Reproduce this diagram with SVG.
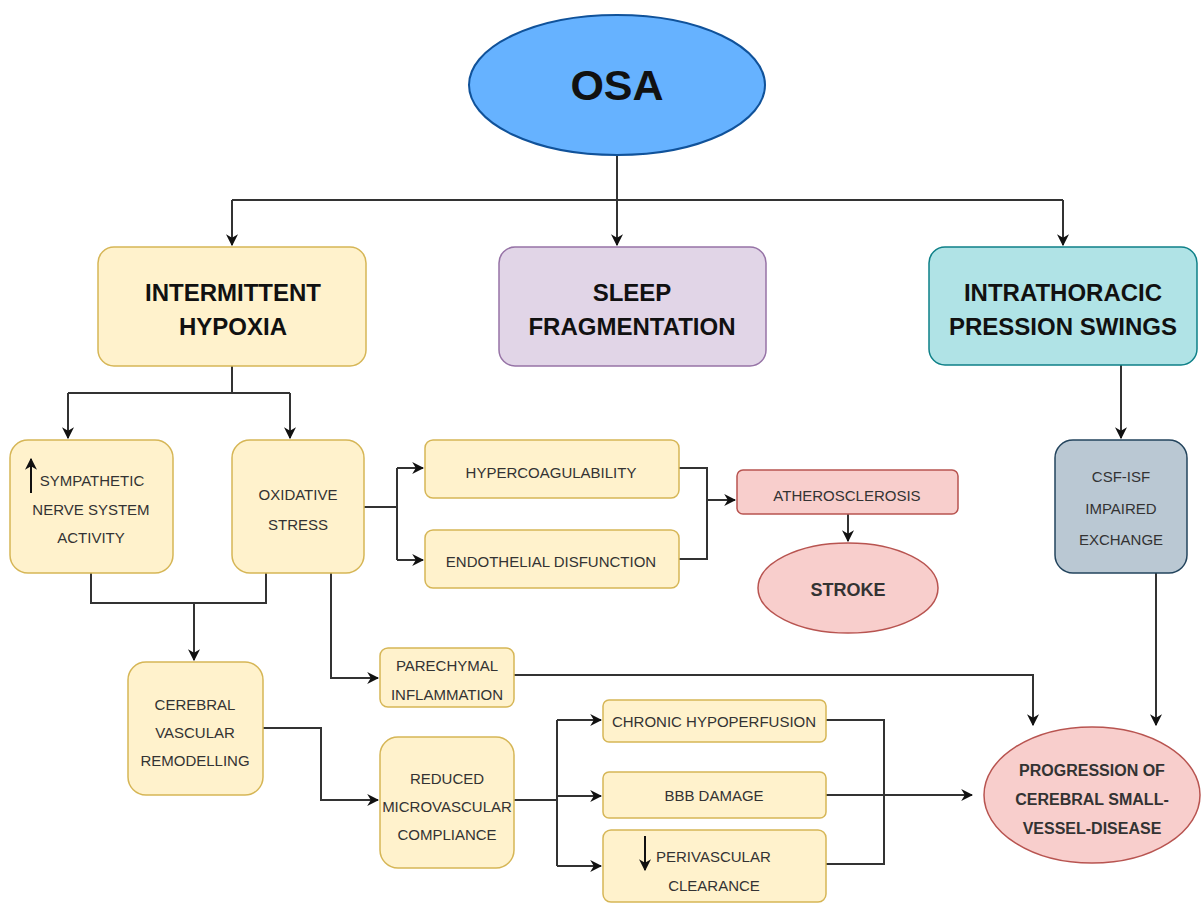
<svg xmlns="http://www.w3.org/2000/svg" width="1203" height="904" viewBox="0 0 1203 904">
<defs>
<marker id="ah" viewBox="0 0 10 10" refX="9" refY="5" markerWidth="6" markerHeight="6" orient="auto" markerUnits="strokeWidth">
<path d="M0,0 L10,5 L0,10 L3,5 Z" fill="#111"/>
</marker>
<marker id="ahs" viewBox="0 0 10 10" refX="9" refY="5" markerWidth="6" markerHeight="6" orient="auto" markerUnits="strokeWidth">
<path d="M0,0 L10,5 L0,10 L3,5 Z" fill="#111"/>
</marker>
</defs>
<style>
.y{fill:#fff2cc;stroke:#d6b656;stroke-width:1.5}
.p{fill:#e1d5e7;stroke:#9673a6;stroke-width:1.5}
.c{fill:#b0e3e6;stroke:#0e8088;stroke-width:1.5}
.g{fill:#bac8d3;stroke:#23445d;stroke-width:1.5}
.r{fill:#f8cecc;stroke:#b85450;stroke-width:1.5}
.h{font-family:"Liberation Sans",Arial,sans-serif;font-weight:bold;font-size:24px;fill:#111;text-anchor:middle}
.s{font-family:"Liberation Sans",Arial,sans-serif;font-size:15px;fill:#333;text-anchor:middle}
.b{font-family:"Liberation Sans",Arial,sans-serif;font-weight:bold;font-size:16px;fill:#333;text-anchor:middle}
.l{fill:none;stroke:#333;stroke-width:2}
.a{marker-end:url(#ah)}
</style>
<rect width="1203" height="904" fill="#fff"/>
<g id="connectors">
<path class="l" d="M617,155 V200"/>
<path class="l" d="M232,200 H1063"/>
<path class="l a" d="M232,200 V245"/>
<path class="l a" d="M617,200 V245"/>
<path class="l a" d="M1063,200 V245"/>
<path class="l" d="M232,366 V393 M68,393 H290"/>
<path class="l a" d="M68,393 V438"/>
<path class="l a" d="M290,393 V438"/>
<path class="l" d="M91,573 V603 H266 V573"/>
<path class="l a" d="M194,603 V660"/>
<path class="l" d="M364,507 H397 M397,468 V560"/>
<path class="l a" d="M397,468 H423"/>
<path class="l a" d="M397,560 H423"/>
<path class="l" d="M679,468 H707 V559 H679"/>
<path class="l a" d="M707,500 H735"/>
<path class="l a" d="M848,514 V541"/>
<path class="l a" d="M331,573 V678 H378"/>
<path class="l a" d="M514,675 H1033 V725"/>
<path class="l a" d="M1121,365 V438"/>
<path class="l a" d="M1156,573 V725"/>
<path class="l a" d="M263,728 H321 V800 H378"/>
<path class="l" d="M514,800 H557 M557,720 V866"/>
<path class="l a" d="M557,720 H601"/>
<path class="l a" d="M557,796 H601"/>
<path class="l a" d="M557,866 H601"/>
<path class="l" d="M826,720 H884 V864 H826"/>
<path class="l a" d="M826,795 H972"/>
</g>
<g id="osa">
<ellipse cx="617" cy="85" rx="148" ry="70" fill="#66b2ff" stroke="#10529a" stroke-width="2"/>
<text x="617" y="100" class="h" style="font-size:43px">OSA</text>
</g>
<g id="intermittent-hypoxia">
<rect x="98" y="247" width="268" height="119" rx="16" class="y"/>
<text x="233" y="301" class="h">INTERMITTENT</text>
<text x="233" y="335" class="h">HYPOXIA</text>
</g>
<g id="sleep-fragmentation">
<rect x="499" y="247" width="267" height="119" rx="16" class="p"/>
<text x="632" y="301" class="h">SLEEP</text>
<text x="632" y="335" class="h">FRAGMENTATION</text>
</g>
<g id="intrathoracic">
<rect x="929" y="247" width="268" height="118" rx="16" class="c"/>
<text x="1063" y="301" class="h">INTRATHORACIC</text>
<text x="1063" y="335" class="h">PRESSION SWINGS</text>
</g>
<g id="sympathetic">
<rect x="10" y="440" width="163" height="133" rx="18" class="y"/>
<path d="M31,493 V459" stroke="#111" stroke-width="2" fill="none" marker-end="url(#ahs)"/>
<text x="92" y="486" class="s">SYMPATHETIC</text>
<text x="91" y="515" class="s">NERVE SYSTEM</text>
<text x="91" y="543" class="s">ACTIVITY</text>
</g>
<g id="oxidative-stress">
<rect x="232" y="440" width="132" height="133" rx="18" class="y"/>
<text x="298" y="500" class="s">OXIDATIVE</text>
<text x="298" y="530" class="s">STRESS</text>
</g>
<g id="hypercoagulability">
<rect x="425" y="440" width="254" height="58" rx="8" class="y"/>
<text x="551" y="478" class="s">HYPERCOAGULABILITY</text>
</g>
<g id="endothelial">
<rect x="425" y="530" width="254" height="58" rx="8" class="y"/>
<text x="551" y="567" class="s">ENDOTHELIAL DISFUNCTION</text>
</g>
<g id="atherosclerosis">
<rect x="737" y="470" width="221" height="44" rx="6" class="r"/>
<text x="847" y="501" class="s">ATHEROSCLEROSIS</text>
</g>
<g id="stroke">
<ellipse cx="848" cy="588" rx="90" ry="45" class="r"/>
<text x="848" y="596" class="b" style="font-size:18px">STROKE</text>
</g>
<g id="csf-isf">
<rect x="1055" y="440" width="132" height="133" rx="18" class="g"/>
<text x="1121" y="482" class="s">CSF-ISF</text>
<text x="1121" y="514" class="s">IMPAIRED</text>
<text x="1121" y="545" class="s">EXCHANGE</text>
</g>
<g id="cerebral-vascular">
<rect x="128" y="662" width="135" height="133" rx="18" class="y"/>
<text x="195" y="710" class="s">CEREBRAL</text>
<text x="195" y="738" class="s">VASCULAR</text>
<text x="195" y="766" class="s">REMODELLING</text>
</g>
<g id="parechymal">
<rect x="380" y="648" width="134" height="59" rx="8" class="y"/>
<text x="447" y="671" class="s">PARECHYMAL</text>
<text x="447" y="700" class="s">INFLAMMATION</text>
</g>
<g id="reduced-compliance">
<rect x="380" y="737" width="134" height="131" rx="18" class="y"/>
<text x="447" y="784" class="s">REDUCED</text>
<text x="447" y="812" class="s">MICROVASCULAR</text>
<text x="447" y="840" class="s">COMPLIANCE</text>
</g>
<g id="chronic-hypoperfusion">
<rect x="603" y="700" width="223" height="42" rx="6" class="y"/>
<text x="714" y="727" class="s">CHRONIC HYPOPERFUSION</text>
</g>
<g id="bbb-damage">
<rect x="603" y="772" width="223" height="46" rx="6" class="y"/>
<text x="714" y="801" class="s">BBB DAMAGE</text>
</g>
<g id="perivascular">
<rect x="603" y="830" width="223" height="72" rx="8" class="y"/>
<path d="M645,836 V870" stroke="#111" stroke-width="2" fill="none" marker-end="url(#ahs)"/>
<text x="656" y="862" style="font-family:'Liberation Sans',Arial,sans-serif;font-size:15px;fill:#333">PERIVASCULAR</text>
<text x="714" y="891" class="s">CLEARANCE</text>
</g>
<g id="progression">
<ellipse cx="1092" cy="795" rx="108" ry="68" class="r"/>
<text x="1092" y="776" class="b">PROGRESSION OF</text>
<text x="1092" y="805" class="b">CEREBRAL SMALL-</text>
<text x="1092" y="834" class="b">VESSEL-DISEASE</text>
</g>
</svg>
